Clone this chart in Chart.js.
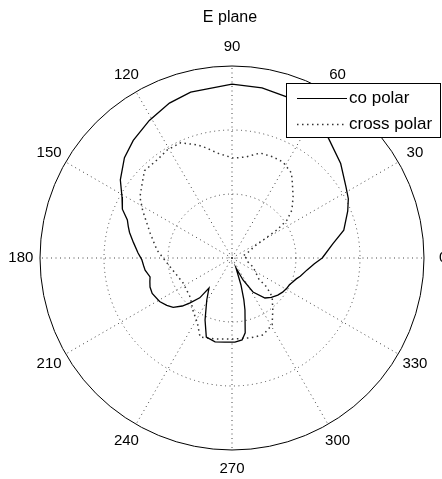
<!DOCTYPE html>
<html>
<head>
<meta charset="utf-8">
<script src="https://cdn.jsdelivr.net/npm/chart.js@4"></script>
<style>
  body { margin: 0; background: #fff; }
  canvas { display: block; }
</style>
</head>
<body>
<canvas id="polarChart" width="442" height="479"></canvas>
<script>
// E plane pattern, angles in degrees, radius normalised (outer ring = 1)
const coAngle = [0, 8, 14, 22, 27, 32, 41, 51, 58, 64, 71, 80, 90, 104, 112, 121, 130, 137, 145, 151, 156, 160, 163, 166, 171, 177, 181, 185, 188, 193, 196, 199.5, 204, 211, 216, 220, 224, 227, 231, 232.5, 239, 246.5, 252, 258.6, 265, 272, 277, 280, 284, 285.8, 288.4, 291.8, 296.6, 301.7, 309.5, 315, 321, 326, 331, 335, 338.5, 342, 345, 351, 356, 360];
const coR     = [0.47, 0.53, 0.60, 0.65, 0.68, 0.70, 0.75, 0.80, 0.85, 0.87, 0.886, 0.90, 0.906, 0.89, 0.87, 0.836, 0.80, 0.766, 0.71, 0.655, 0.625, 0.58, 0.565, 0.55, 0.52, 0.49, 0.47, 0.462, 0.457, 0.438, 0.445, 0.453, 0.455, 0.44, 0.42, 0.40, 0.36, 0.32, 0.267, 0.197, 0.255, 0.352, 0.433, 0.446, 0.44, 0.438, 0.43, 0.396, 0.279, 0.227, 0.148, 0.056, 0.128, 0.208, 0.27, 0.29, 0.307, 0.318, 0.326, 0.33, 0.34, 0.352, 0.368, 0.396, 0.43, 0.47];

const crossAngle = [0, 10, 20, 28, 30, 32, 34.6, 38.7, 45, 51, 55, 62, 68, 75, 82, 89, 98, 103, 107, 114, 121, 127, 135, 140, 146.5, 152, 163, 174, 188, 207, 223, 233, 242, 248, 258, 270, 283, 292, 301, 308, 316, 320, 322, 337, 346, 360];
const crossR     = [0.075, 0.058, 0.09, 0.14, 0.187, 0.276, 0.348, 0.40, 0.45, 0.50, 0.54, 0.566, 0.568, 0.566, 0.532, 0.52, 0.552, 0.588, 0.616, 0.657, 0.656, 0.643, 0.644, 0.61, 0.575, 0.527, 0.446, 0.393, 0.326, 0.286, 0.298, 0.339, 0.384, 0.444, 0.431, 0.422, 0.427, 0.432, 0.406, 0.345, 0.291, 0.237, 0.177, 0.119, 0.086, 0.075];

const spokeAngles = [0, 30, 60, 90, 120, 150, 180, 210, 240, 270, 300, 330];
const ringRadii = [1 / 3, 2 / 3];
const seriesNames = ["co polar", "cross polar"];

// geometry of the plot in the window
const R = 192, CX = 232, CY = 258, W = 442, H = 479;

function toXY(angles, radii) {
  return angles.map((a, i) => ({
    x: radii[i] * Math.cos(a * Math.PI / 180),
    y: radii[i] * Math.sin(a * Math.PI / 180)
  }));
}

const FONT = '"Liberation Sans", Arial, sans-serif';

// grid: rings, spokes, outer circle
const polarGrid = {
  id: "polarGrid",
  beforeDatasetsDraw(chart) {
    const ctx = chart.ctx, sx = chart.scales.x, sy = chart.scales.y;
    const cx = sx.getPixelForValue(0), cy = sy.getPixelForValue(0);
    const rad = sx.getPixelForValue(1) - cx;
    ctx.save();
    ctx.strokeStyle = "#444";
    ctx.lineWidth = 1;
    ctx.setLineDash([1, 3.5]);
    ringRadii.forEach(r => {
      ctx.beginPath();
      ctx.arc(cx, cy, r * rad, 0, Math.PI * 2);
      ctx.stroke();
    });
    ctx.beginPath();
    ctx.arc(cx, cy, 3, 0, Math.PI * 2);
    ctx.stroke();
    spokeAngles.forEach(a => {
      const t = a * Math.PI / 180;
      ctx.beginPath();
      ctx.moveTo(cx, cy);
      ctx.lineTo(sx.getPixelForValue(Math.cos(t)), sy.getPixelForValue(Math.sin(t)));
      ctx.stroke();
    });
    ctx.setLineDash([]);
    ctx.strokeStyle = "#000";
    ctx.beginPath();
    ctx.arc(cx, cy, rad, 0, Math.PI * 2);
    ctx.stroke();
    ctx.restore();
  },
  afterDraw(chart) {
    const ctx = chart.ctx, sx = chart.scales.x, sy = chart.scales.y;
    ctx.save();
    ctx.fillStyle = "#000";
    ctx.textAlign = "center";
    ctx.textBaseline = "middle";
    ctx.font = "15px " + FONT;
    spokeAngles.forEach(a => {
      const t = a * Math.PI / 180;
      ctx.fillText(String(a), sx.getPixelForValue(1.1 * Math.cos(t)), sy.getPixelForValue(1.1 * Math.sin(t)));
    });
    ctx.font = "16px " + FONT;
    ctx.fillText("E plane", 230, 18);

    // legend box
    ctx.fillStyle = "#fff";
    ctx.fillRect(286.5, 83.5, 154, 54);
    ctx.strokeStyle = "#000";
    ctx.lineWidth = 1;
    ctx.strokeRect(286.5, 83.5, 154, 54);
    ctx.beginPath();
    ctx.moveTo(297, 98.5);
    ctx.lineTo(347, 98.5);
    ctx.stroke();
    ctx.strokeStyle = "#333";
    ctx.lineWidth = 1.4;
    ctx.setLineDash([1.5, 3.5]);
    ctx.beginPath();
    ctx.moveTo(297, 124.5);
    ctx.lineTo(347, 124.5);
    ctx.stroke();
    ctx.setLineDash([]);
    ctx.fillStyle = "#000";
    ctx.textAlign = "left";
    ctx.font = "17px " + FONT;
    ctx.fillText(seriesNames[0], 349, 98);
    ctx.fillText(seriesNames[1], 349, 124);
    ctx.restore();
  }
};

new Chart(document.getElementById("polarChart"), {
  type: "scatter",
  data: {
    datasets: [{
      label: seriesNames[0],
      data: toXY(coAngle, coR),
      showLine: true,
      borderColor: "#000",
      borderWidth: 1.3,
      pointRadius: 0,
      tension: 0
    }, {
      label: seriesNames[1],
      data: toXY(crossAngle, crossR),
      showLine: true,
      borderColor: "#333",
      borderWidth: 1.5,
      borderDash: [1.5, 3.5],
      pointRadius: 0,
      tension: 0
    }]
  },
  options: {
    responsive: false,
    animation: false,
    layout: { padding: 0 },
    plugins: { legend: { display: false }, tooltip: { enabled: false } },
    scales: {
      x: { type: "linear", display: false, min: -CX / R, max: (W - CX) / R },
      y: { type: "linear", display: false, min: (CY - H) / R, max: CY / R }
    }
  },
  plugins: [polarGrid]
});
</script>
</body>
</html>
